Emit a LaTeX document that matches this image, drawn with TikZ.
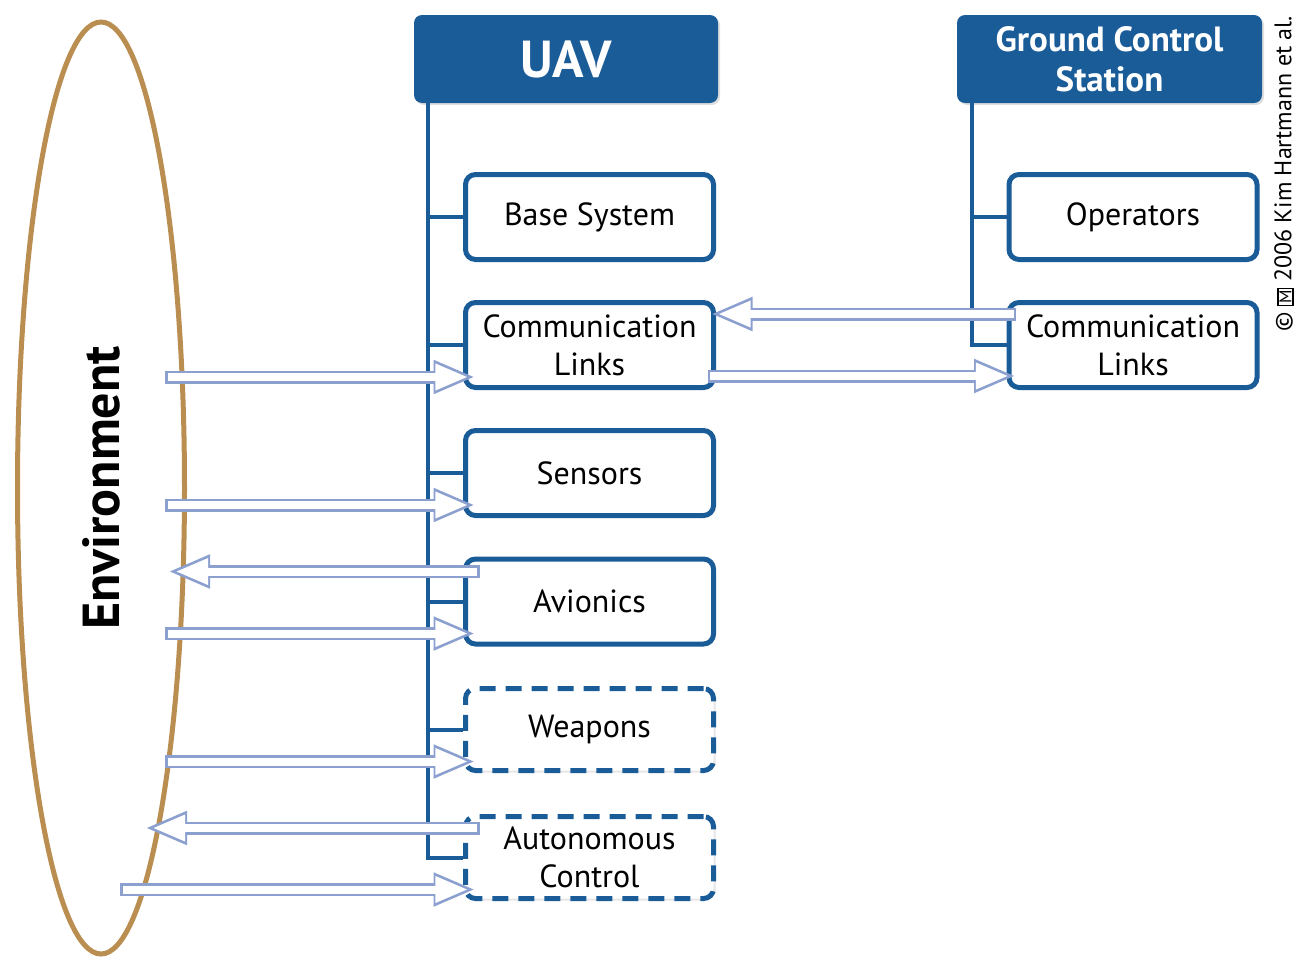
\documentclass[tikz,border=0pt]{standalone}
\usepackage{fontspec}
\setmainfont{PT Sans}
\usepackage{tikz}
\usetikzlibrary{positioning,shapes.geometric,arrows.meta,calc,shadows}
\definecolor{uavblue}{RGB}{26,92,152}
\definecolor{linkblue}{RGB}{140,160,208}
\definecolor{envbrown}{RGB}{186,141,80}
\newcommand{\boxedm}{{\setlength{\fboxsep}{0.5pt}\setlength{\fboxrule}{0.6pt}\fbox{\fontsize{8.5}{8.5}\selectfont M}}}
\tikzstyle{head} = [fill=uavblue, rounded corners=4pt, minimum width=152pt, minimum height=44pt, text=white, align=center, drop shadow={opacity=0.25, shadow xshift=1pt, shadow yshift=-1pt}]
\tikzstyle{part} = [draw=uavblue, line width=2.5pt, fill=white, rounded corners=5pt, minimum width=124pt, minimum height=42.5pt, align=center, font=\fontsize{16}{19}\selectfont, drop shadow={opacity=0.2, shadow xshift=1pt, shadow yshift=-1pt}]
\tikzstyle{optpart} = [part, dash pattern=on 8pt off 5pt]
\tikzstyle{trunk} = [draw=uavblue, line width=2pt]
\tikzstyle{flow} = [draw=linkblue, line width=6.5pt, -{Triangle[length=21pt,width=15.5pt]}, postaction={draw=white, line width=4pt, shorten <=1.25pt, shorten >=3.6pt, -{Triangle[length=16.5pt,width=12.2pt]}}]

\begin{document}
\begin{tikzpicture}[x=0.5pt,y=-0.5pt]
			\useasboundingbox (0,0) rectangle (1306,969);
			\node[ellipse, draw=envbrown, line width=2.5pt, rotate=90, minimum width=466pt, minimum height=83.5pt, font=\fontsize{26}{30}\selectfont\bfseries] (env) at (101,488) {Environment};
			\node[head, font=\fontsize{26}{30}\selectfont\bfseries] (uav) at (566,59) {UAV};
			\node[head, minimum width=152.5pt, font=\fontsize{17.5}{20}\selectfont\bfseries] (gcs) at (1109.5,59) {Ground Control\\Station};
			\node[part] (base) at (589.5,217) {Base System};
			\node[part] (comm) at (589.5,345) {Communication\\Links};
			\node[part] (sens) at (589.5,473) {Sensors};
			\node[part] (avio) at (589.5,601.5) {Avionics};
			\node[optpart, minimum height=41pt] (weap) at (589.5,729.5) {Weapons};
			\node[optpart, minimum height=41pt] (auto) at (589.5,857.5) {Autonomous\\Control};
			\node[part] (oper) at (1133,217) {Operators};
			\node[part] (gcomm) at (1133,345) {Communication\\Links};
			\node[rotate=90, font=\fontsize{12}{14}\selectfont] (copy) at (1284,174) {© \boxedm{} 2006 Kim Hartmann et al.};
			% tree lines
			\coordinate (uavroot) at ([xshift=7pt]uav.south west);
			\coordinate (gcsroot) at ([xshift=7.5pt]gcs.south west);
			\draw[trunk] (uavroot) |- (auto.west);
			\foreach \b in {base,comm,sens,avio,weap}
				\draw[trunk] (\b.west -| uavroot) -- (\b.west);
			\draw[trunk] (gcsroot) |- (gcomm.west);
			\draw[trunk] (oper.west -| gcsroot) -- (oper.west);
			% flows
			\coordinate (shore) at (165,0);
			\coordinate (farshore) at (120,0);
			\coordinate (deep) at (145,0);
			\foreach \b in {comm,sens,avio,weap}
				\draw[flow] ($(shore |- \b.west)+(0,-16pt)$) -- ($(\b.west)+(6.25pt,-16pt)$);
			\draw[flow] ($(farshore |- auto.west)+(0,-16pt)$) -- ($(auto.west)+(6.25pt,-16pt)$);
			\draw[flow] ($(avio.west)+(8.25pt,15pt)$) -- ($(shore |- avio.west)+(1.5pt,15pt)$);
			\draw[flow] ($(auto.west)+(8.25pt,14.75pt)$) -- ($(deep |- auto.west)+(0,14.75pt)$);
			\draw[flow] ($(gcomm.west)+(4.75pt,15.5pt)$) -- ($(comm.east)+(-2.75pt,15.5pt)$);
			\draw[flow] ($(comm.east)+(-4.25pt,-15.5pt)$) -- ($(gcomm.west)+(4.75pt,-15.5pt)$);
		\end{tikzpicture}
\end{document}
